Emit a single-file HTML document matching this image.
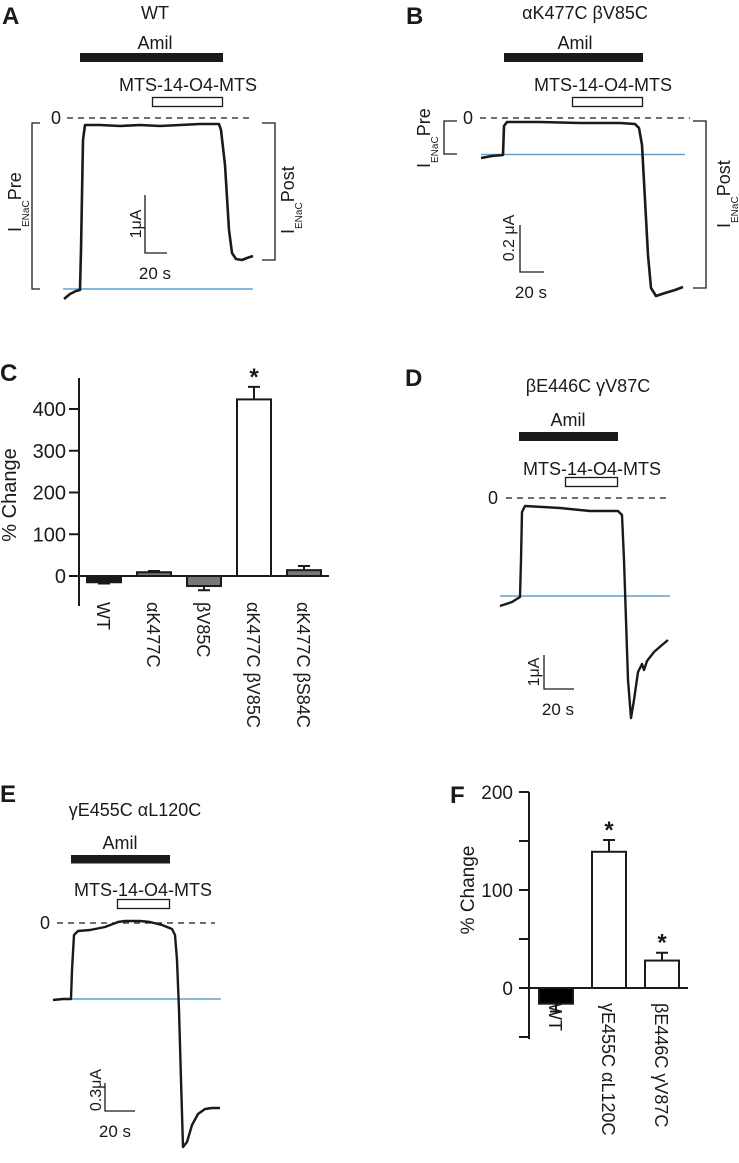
<!DOCTYPE html>
<html><head><meta charset="utf-8"><style>
html,body{margin:0;padding:0;background:#fff;}
svg{display:block;font-family:"Liberation Sans",sans-serif;}
</style></head><body>
<svg id="fig" width="739" height="1163" viewBox="0 0 739 1163" xmlns="http://www.w3.org/2000/svg">
<g fill="#1a1a1a" font-weight="bold" font-size="24">
<text x="2" y="24">A</text>
<text x="406" y="24">B</text>
<text x="0" y="381">C</text>
<text x="405" y="386">D</text>
<text x="0" y="802">E</text>
<text x="450" y="803">F</text>
</g>

<!-- Panel A -->
<g font-size="18" fill="#1a1a1a">
<text x="155" y="19" text-anchor="middle">WT</text>
<text x="155" y="49" text-anchor="middle">Amil</text>
<rect x="80" y="53" width="143" height="9" fill="#1a1a1a"/>
<text x="188" y="91" text-anchor="middle">MTS-14-O4-MTS</text>
<rect x="152.5" y="97.5" width="70" height="9" fill="#fff" stroke="#1a1a1a" stroke-width="1.3"/>
<text x="51" y="124">0</text>
<line x1="67" y1="118" x2="253" y2="118" stroke="#1a1a1a" stroke-width="1.3" stroke-dasharray="6,5"/>
<path d="M40,123 H32 V289 H40" fill="none" stroke="#1a1a1a" stroke-width="1.3"/>
<path d="M262,123 H275 V260 H262" fill="none" stroke="#1a1a1a" stroke-width="1.3"/>
<text transform="translate(21,232) rotate(-90)">I<tspan font-size="10" dy="8">ENaC</tspan><tspan dy="-8">Pre</tspan></text>
<text transform="translate(294,234) rotate(-90)">I<tspan font-size="10" dy="8">ENaC</tspan><tspan dy="-8">Post</tspan></text>
<line x1="63" y1="289" x2="253" y2="289" stroke="#5ba3d9" stroke-width="1.5"/>
<polyline points="64,299 70,294 76,291 80,290 81,250 83,140 85,125 100,125 120,126 140,125 160,126 180,125 200,124 219,124 221,130 225,165 229,230 232,253 236,259 242,260 247,258 253,256" fill="none" stroke="#1a1a1a" stroke-width="2.6" stroke-linejoin="round"/>
<path d="M145,195 V253 H167" fill="none" stroke="#1a1a1a" stroke-width="1.3"/>
<text transform="translate(141,224) rotate(-90)" text-anchor="middle" font-size="16">1μA</text>
<text x="155" y="279" text-anchor="middle" font-size="17">20 s</text>
</g>

<!-- Panel B -->
<g font-size="18" fill="#1a1a1a">
<text x="585" y="19" text-anchor="middle">αK477C βV85C</text>
<text x="575" y="49" text-anchor="middle">Amil</text>
<rect x="504" y="53" width="139" height="9" fill="#1a1a1a"/>
<text x="603" y="91" text-anchor="middle">MTS-14-O4-MTS</text>
<rect x="572.5" y="97.5" width="70" height="9" fill="#fff" stroke="#1a1a1a" stroke-width="1.3"/>
<text x="463" y="124">0</text>
<line x1="480" y1="118" x2="690" y2="118" stroke="#1a1a1a" stroke-width="1.3" stroke-dasharray="6,5"/>
<path d="M457,121 H444 V154 H457" fill="none" stroke="#1a1a1a" stroke-width="1.3"/>
<path d="M693,121 H706 V288 H693" fill="none" stroke="#1a1a1a" stroke-width="1.3"/>
<text transform="translate(430,168) rotate(-90)">I<tspan font-size="10" dy="8">ENaC</tspan><tspan dy="-8">Pre</tspan></text>
<text transform="translate(730,228) rotate(-90)">I<tspan font-size="10" dy="8">ENaC</tspan><tspan dy="-8">Post</tspan></text>
<line x1="481" y1="154.5" x2="685" y2="154.5" stroke="#5ba3d9" stroke-width="1.5"/>
<polyline points="481,158 492,156 503,155 504,126 507,122 540,122 580,123 620,123 635,124 639,128 642,145 645,200 648,255 651,288 656,296 665,293 675,290 683,287" fill="none" stroke="#1a1a1a" stroke-width="2.6" stroke-linejoin="round"/>
<path d="M520,225 V272 H544" fill="none" stroke="#1a1a1a" stroke-width="1.3"/>
<text transform="translate(514,238) rotate(-90)" text-anchor="middle" font-size="16">0.2 μA</text>
<text x="531" y="298" text-anchor="middle" font-size="17">20 s</text>
</g>

<!-- Panel D -->
<g font-size="18" fill="#1a1a1a">
<text x="588" y="392" text-anchor="middle">βE446C γV87C</text>
<text x="568" y="426" text-anchor="middle">Amil</text>
<rect x="519" y="432" width="99" height="9" fill="#1a1a1a"/>
<text x="592" y="475" text-anchor="middle">MTS-14-O4-MTS</text>
<rect x="565.5" y="477.5" width="52" height="9" fill="#fff" stroke="#1a1a1a" stroke-width="1.3"/>
<text x="488" y="504">0</text>
<line x1="506" y1="498" x2="668" y2="498" stroke="#1a1a1a" stroke-width="1.3" stroke-dasharray="6,5"/>
<line x1="500" y1="596" x2="670" y2="596" stroke="#5ba3d9" stroke-width="1.5"/>
<polyline points="500,606 512,602 520,597 521,560 522,512 525,506 560,508 590,511 618,511 622,515 624,560 626,620 628,680 631,718 634,700 638,672 642,664 644,670 647,661 654,652 662,645 668,640" fill="none" stroke="#1a1a1a" stroke-width="2.4" stroke-linejoin="round"/>
<path d="M544,655 V689 H574" fill="none" stroke="#1a1a1a" stroke-width="1.3"/>
<text transform="translate(539,672) rotate(-90)" text-anchor="middle" font-size="16">1μA</text>
<text x="558" y="715" text-anchor="middle" font-size="17">20 s</text>
</g>

<!-- Panel E -->
<g font-size="18" fill="#1a1a1a">
<text x="135" y="816" text-anchor="middle">γE455C αL120C</text>
<text x="120" y="849" text-anchor="middle">Amil</text>
<rect x="71" y="855" width="99" height="8.5" fill="#1a1a1a"/>
<text x="143" y="896" text-anchor="middle">MTS-14-O4-MTS</text>
<rect x="117.5" y="899.5" width="52" height="9" fill="#fff" stroke="#1a1a1a" stroke-width="1.3"/>
<text x="40" y="929">0</text>
<line x1="57" y1="923" x2="215" y2="923" stroke="#1a1a1a" stroke-width="1.3" stroke-dasharray="6,5"/>
<line x1="70" y1="999" x2="221" y2="999" stroke="#5ba3d9" stroke-width="1.5"/>
<polyline points="53,1000 63,999 71,999 72,970 74,935 78,931 90,930 105,927 118,922 125,921 140,921 150,922 162,925 172,929 175,935 177,960 179,1010 181,1080 183,1147 187,1142 192,1125 198,1114 205,1109 212,1108 220,1108" fill="none" stroke="#1a1a1a" stroke-width="2.4" stroke-linejoin="round"/>
<path d="M105,1083 V1111 H135" fill="none" stroke="#1a1a1a" stroke-width="1.3"/>
<text transform="translate(101,1090) rotate(-90)" text-anchor="middle" font-size="16">0.3μA</text>
<text x="115" y="1137" text-anchor="middle" font-size="17">20 s</text>
</g>

<g id="chartC"></g>
<g id="chartF"></g>
</svg>
<script>
const cCategories = ["WT", "αK477C", "βV85C", "αK477C βV85C", "αK477C βS84C"];
const cValues = [-15, 9, -24, 423, 14];
const cErrors = [3, 3, 10, 30, 10];
const cFills = ["#1a1a1a", "#777", "#777", "#fff", "#777"];
const cStars = [false, false, false, true, false];
const cTicks = [0, 100, 200, 300, 400];

const fCategories = ["WT", "γE455C αL120C", "βE446C γV87C"];
const fValues = [-16, 139, 28];
const fErrors = [8, 12, 8];
const fFills = ["#000", "#fff", "#fff"];
const fStars = [false, true, true];
const fTicks = [0, 100, 200];
const fMinorTicks = [-50, 50, 150];

const NS = "http://www.w3.org/2000/svg";
function mk(parent, tag, attrs, text) {
  const e = document.createElementNS(NS, tag);
  for (const k in attrs) e.setAttribute(k, attrs[k]);
  if (text !== undefined) e.textContent = text;
  parent.appendChild(e);
  return e;
}

function drawBars(g, cfg) {
  const y = v => cfg.y0 - v * cfg.pxPer;
  const x = i => cfg.xStart + i * cfg.step;
  const ax = mk(g, "line", {x1: cfg.axisX, y1: cfg.axisTop, x2: cfg.axisX, y2: cfg.axisBottom, stroke: "#1a1a1a", "stroke-width": 2});
  
  
  cfg.ticks.forEach(t => {
    const tl = mk(g, "line", {x1: cfg.axisX - 10, y1: y(t), x2: cfg.axisX, y2: y(t), stroke: "#1a1a1a", "stroke-width": 2});
    
    
    const tx = mk(g, "text", {x: cfg.axisX - cfg.labelGap, y: y(t) + 7, "text-anchor": "end", "font-size": cfg.tickFont, fill: "#1a1a1a"}, String(t));
    
    
  });
  (cfg.minor || []).forEach(t => {
    const tl = mk(g, "line", {x1: cfg.axisX - 10, y1: y(t), x2: cfg.axisX, y2: y(t), stroke: "#1a1a1a", "stroke-width": 2});
    
    
  });
  const yt = mk(g, "text", {transform: `translate(${cfg.titleX},${cfg.titleY}) rotate(-90)`, "text-anchor": "middle", "font-size": cfg.titleFont, fill: "#1a1a1a"}, "% Change");
  
  
  cfg.values.forEach((v, i) => {
    const x0 = x(i), top = Math.min(y(v), y(0)), h = Math.abs(y(v) - y(0));
    const r = mk(g, "rect", {x: x0, y: top, width: cfg.barW, height: h, fill: cfg.fills[i], stroke: "#1a1a1a", "stroke-width": 2});
    
    
    const cx = x0 + cfg.barW / 2;
    const ev = v >= 0 ? v + cfg.errors[i] : v - cfg.errors[i];
    const el = mk(g, "path", {d: `M${cx},${y(v)} V${y(ev)} M${cx - 6},${y(ev)} H${cx + 6}`, stroke: "#1a1a1a", "stroke-width": 2, fill: "none"});
    
    
    if (cfg.stars[i]) {
      const s = mk(g, "text", {x: cx, y: y(ev) - 2, "text-anchor": "middle", "font-size": 24, "font-weight": "bold", fill: "#1a1a1a"}, "*");
      
      
    }
    const lx = cx + cfg.labelDx;
    const lb = mk(g, "text", {transform: `translate(${lx},${cfg.labelY}) rotate(90)`, "font-size": cfg.labelFont, fill: "#1a1a1a"}, cfg.cats[i]);
    
    
  });
  const bl = mk(g, "line", {x1: cfg.axisX, y1: y(0), x2: cfg.axisRight, y2: y(0), stroke: "#1a1a1a", "stroke-width": 2});
  
  
}

drawBars(document.getElementById("chartC"), {
  cats: cCategories, values: cValues, errors: cErrors, fills: cFills, stars: cStars, ticks: cTicks,
  y0: 576, pxPer: 0.4175, xStart: 87, step: 50, barW: 34, axisX: 79, axisTop: 378, axisBottom: 606, axisRight: 329,
  tickFont: 20, titleFont: 20, titleX: 16, titleY: 495, labelY: 602, labelDx: -7, labelFont: 18, labelGap: 13
});
drawBars(document.getElementById("chartF"), {
  cats: fCategories, values: fValues, errors: fErrors, fills: fFills, stars: fStars, ticks: fTicks, minor: fMinorTicks,
  y0: 988, pxPer: 0.98, xStart: 539, step: 53, barW: 34, axisX: 529, axisTop: 792, axisBottom: 1039, axisRight: 688,
  tickFont: 19, titleFont: 19, titleX: 474, titleY: 890, labelY: 1003, labelDx: -7, labelFont: 18, labelGap: 16
});
</script>
</body></html>
